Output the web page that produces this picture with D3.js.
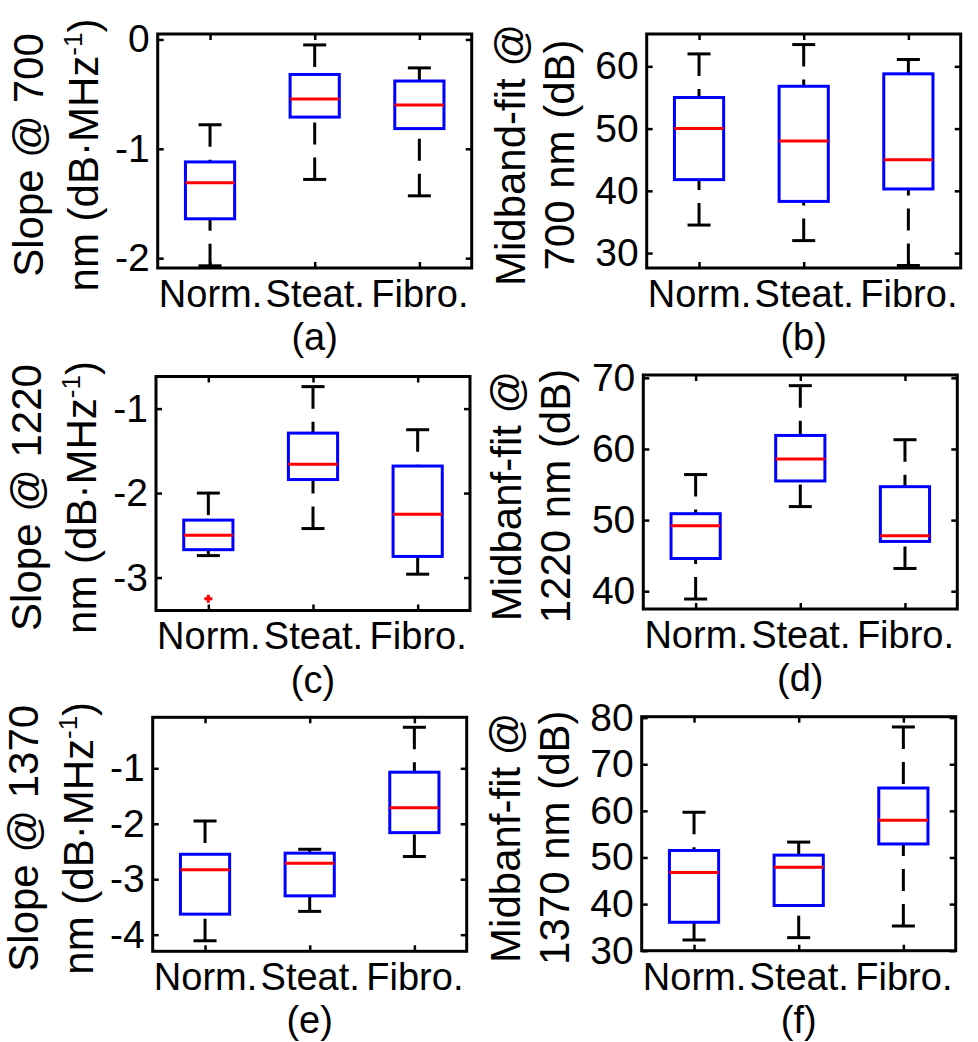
<!DOCTYPE html>
<html>
<head>
<meta charset="utf-8">
<script src="https://cdn.jsdelivr.net/npm/d3@7"></script>
<style>
  body { margin: 0; background: #fff; }
  svg { display: block; }
  text { font-family: "Liberation Sans", Arial, sans-serif; fill: #000; }
</style>
</head>
<body>
<svg width="978" height="1042"></svg>
<script>
const categories = ["Norm.", "Steat.", "Fibro."];

// each group: [lower whisker, q1, median, q3, upper whisker]
const slope700 = [[-2.07, -1.64, -1.31, -1.12, -0.78], [-1.28, -0.71, -0.545, -0.32, -0.05], [-1.43, -0.815, -0.60, -0.38, -0.26]];
const midband700 = [[34.5, 41.8, 50.0, 55.0, 62.0], [32.0, 38.3, 48.0, 56.8, 63.5], [28.0, 40.3, 45.0, 58.8, 61.1]];
const slope1220 = [[-2.74, -2.67, -2.50, -2.32, -2.0], [-2.42, -1.84, -1.66, -1.29, -0.74], [-2.96, -2.75, -2.25, -1.68, -1.25]];
const midband1220 = [[38.9, 44.6, 49.2, 50.9, 56.4], [51.9, 55.5, 58.6, 61.9, 68.9], [43.2, 47.0, 47.8, 54.7, 61.3]];
const slope1370 = [[-4.11, -3.63, -2.83, -2.55, -1.95], [-3.58, -3.30, -2.71, -2.53, -2.46], [-2.59, -2.16, -1.71, -1.07, -0.26]];
const midband1370 = [[32.3, 36.1, 46.8, 51.5, 59.7], [32.8, 39.7, 47.9, 50.5, 53.3], [35.3, 52.9, 58.0, 64.9, 78.0]];

// outliers: [group index, value]
const slope1220Outliers = [[0, -3.25]];

const ticks700Slope = [-2, -1, 0];
const ticks700Mid = [30, 40, 50, 60];
const ticks1220Slope = [-3, -2, -1];
const ticks1220Mid = [40, 50, 60, 70];
const ticks1370Slope = [-4, -3, -2, -1];
const ticks1370Mid = [30, 40, 50, 60, 70, 80];

const panels = [
  { label: "(a)", data: slope700, outliers: [], domain: [-2.09, 0.05], ticks: ticks700Slope,
    title: ["Slope @ 700", "nm (dB·MHz"], sup: true, left: 157.7, top: 34 },
  { label: "(b)", data: midband700, outliers: [], domain: [27.6, 65.2], ticks: ticks700Mid,
    title: ["Midband-fit @", "700 nm (dB)"], sup: false, left: 646.7, top: 34 },
  { label: "(c)", data: slope1220, outliers: slope1220Outliers, domain: [-3.39, -0.62], ticks: ticks1220Slope,
    title: ["Slope @ 1220", "nm (dB·MHz"], sup: true, left: 156, top: 376.5 },
  { label: "(d)", data: midband1220, outliers: [], domain: [37.5, 70.4], ticks: ticks1220Mid,
    title: ["Midbanf-fit @", "1220 nm (dB)"], sup: false, left: 643.3, top: 375 },
  { label: "(e)", data: slope1370, outliers: [], domain: [-4.30, -0.08], ticks: ticks1370Slope,
    title: ["Slope @ 1370", "nm (dB·MHz"], sup: true, left: 152.7, top: 717.3 },
  { label: "(f)", data: midband1370, outliers: [], domain: [30, 80.2], ticks: ticks1370Mid,
    title: ["Midbanf-fit @", "1370 nm (dB)"], sup: false, left: 641.7, top: 716.7 }
];

const W = 314, H = 234;
const boxW = 0.47, capW = 0.22;

const svg = d3.select("svg");

panels.forEach(function (p) {
  const g = svg.append("g").attr("transform", "translate(" + p.left + "," + p.top + ")");

  const x = d3.scaleLinear().domain([0.5, 3.5]).range([0, W]);
  const y = d3.scaleLinear().domain(p.domain).range([H, 0]);

  // axes with inward ticks
  const yAxis = g.append("g")
    .call(d3.axisLeft(y).tickValues(p.ticks).tickSize(-6).tickPadding(8).tickFormat(d3.format("d")));
  const yAxisR = g.append("g").attr("transform", "translate(" + W + ",0)")
    .call(d3.axisRight(y).tickValues(p.ticks).tickSize(-6).tickFormat(""));
  const xAxis = g.append("g").attr("transform", "translate(0," + H + ")")
    .call(d3.axisBottom(x).tickValues([1, 2, 3]).tickSize(-6).tickPadding(12)
      .tickFormat(function (d) { return categories[d - 1]; }));
  const xAxisT = g.append("g")
    .call(d3.axisTop(x).tickValues([1, 2, 3]).tickSize(-6).tickFormat(""));

  [yAxis, yAxisR, xAxis, xAxisT].forEach(function (a) {
    a.select(".domain").remove();
    a.selectAll(".tick line").attr("stroke", "#000").attr("stroke-width", 2.5);
    a.selectAll("text").attr("font-size", 39).attr("fill", "#000")
      .style("font-family", "'Liberation Sans', Arial, sans-serif");
  });
  xAxis.selectAll("text").attr("font-size", 38);
  yAxis.selectAll("text").text(function (d) { return String(d).replace("\u2212", "-"); });

  // boxes
  const grp = g.selectAll(".grp").data(p.data).enter().append("g");

  grp.append("line") // upper whisker
    .attr("x1", function (d, i) { return x(i + 1); }).attr("x2", function (d, i) { return x(i + 1); })
    .attr("y1", function (d) { return y(d[4]); }).attr("y2", function (d) { return y(d[3]); })
    .attr("stroke", "#000").attr("stroke-width", 3).attr("stroke-dasharray", "22,13");
  grp.append("line") // lower whisker
    .attr("x1", function (d, i) { return x(i + 1); }).attr("x2", function (d, i) { return x(i + 1); })
    .attr("y1", function (d) { return y(d[0]); }).attr("y2", function (d) { return y(d[1]); })
    .attr("stroke", "#000").attr("stroke-width", 3).attr("stroke-dasharray", "22,13");

  [0, 4].forEach(function (k) {
    grp.append("line")
      .attr("x1", function (d, i) { return x(i + 1 - capW / 2); })
      .attr("x2", function (d, i) { return x(i + 1 + capW / 2); })
      .attr("y1", function (d) { return y(d[k]); }).attr("y2", function (d) { return y(d[k]); })
      .attr("stroke", "#000").attr("stroke-width", 3);
  });

  grp.append("rect")
    .attr("x", function (d, i) { return x(i + 1 - boxW / 2); })
    .attr("width", x(boxW) - x(0))
    .attr("y", function (d) { return y(d[3]); })
    .attr("height", function (d) { return y(d[1]) - y(d[3]); })
    .attr("fill", "none").attr("stroke", "#0000ff").attr("stroke-width", 3);

  grp.append("line")
    .attr("x1", function (d, i) { return x(i + 1 - boxW / 2); })
    .attr("x2", function (d, i) { return x(i + 1 + boxW / 2); })
    .attr("y1", function (d) { return y(d[2]); }).attr("y2", function (d) { return y(d[2]); })
    .attr("stroke", "#ff0000").attr("stroke-width", 3);

  // outliers as red "+"
  p.outliers.forEach(function (o) {
    const cx = x(o[0] + 1), cy = y(o[1]);
    g.append("path")
      .attr("d", "M" + (cx - 4) + "," + cy + "H" + (cx + 4) + "M" + cx + "," + (cy - 4) + "V" + (cy + 4))
      .attr("stroke", "#ff0000").attr("stroke-width", 3);
  });

  // frame
  g.append("rect").attr("width", W).attr("height", H)
    .attr("fill", "none").attr("stroke", "#000").attr("stroke-width", 3);

  // y title, two lines
  const off = p.sup ? [-115, -60] : [-122, -73];
  const cy = H / 2 + 4;
  g.append("text")
    .attr("transform", "translate(" + off[0] + "," + cy + ") rotate(-90)")
    .attr("text-anchor", "middle").attr("font-size", 42)
    .text(p.title[0]);
  const t2 = g.append("text")
    .attr("transform", "translate(" + off[1] + "," + cy + ") rotate(-90)")
    .attr("text-anchor", "middle").attr("font-size", 42)
    .text(p.title[1]);
  if (p.sup) {
    t2.append("tspan").attr("dy", -16).attr("font-size", 26).text("-1");
    t2.append("tspan").attr("dy", 16).text(")");
  }

  // panel label
  g.append("text")
    .attr("x", W / 2).attr("y", H + 82)
    .attr("text-anchor", "middle").attr("font-size", 38)
    .text(p.label);
});
</script>
</body>
</html>
